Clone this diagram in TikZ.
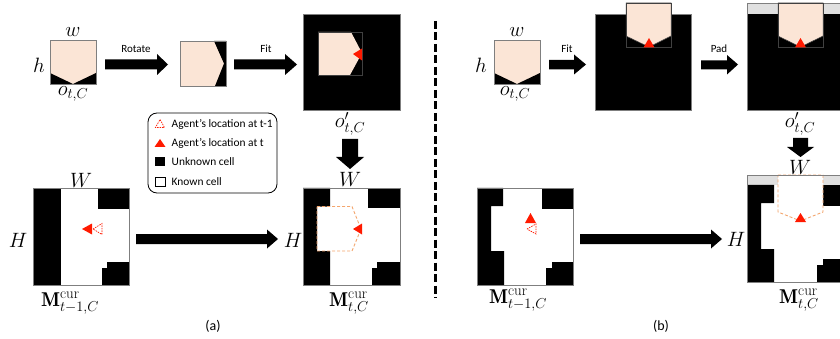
\documentclass[tikz,border=0pt]{standalone}
\usepackage{fontspec}
\setsansfont{Carlito}
\DeclareMathSizes{20}{20}{15}{11}
\definecolor{pinkf}{HTML}{FBE5D6}
\definecolor{redt}{HTML}{FF1A00}
\definecolor{orangd}{HTML}{F4A66E}
\definecolor{graybd}{HTML}{7F7F7F}
\definecolor{padgray}{HTML}{E0E0E0}
\definecolor{fovline}{HTML}{404040}
\tikzset{
  cellborder/.style={draw=graybd, line width=0.8pt},
  fovbox/.style={draw=fovline, line width=0.5pt},
  redtri/.style={fill=redt},
  dashtri/.style={draw=redt, dash pattern=on 1.5pt off 1pt, line width=0.7pt},
  fovdash/.style={draw=orangd, dash pattern=on 3pt off 2pt, line width=0.9pt},
  mlbl/.style={font=\fontsize{20}{22}\selectfont, inner sep=0pt},
  slbl/.style={font=\sffamily\fontsize{11}{13}\selectfont, inner sep=0pt},
  leglbl/.style={font=\sffamily\fontsize{11.4}{13}\selectfont, inner sep=0pt},
  caplbl/.style={font=\sffamily\fontsize{14}{16}\selectfont, inner sep=0pt},
  blk/.style={fill=black}
}
\begin{document}
\begin{tikzpicture}[x=1pt,y=-1pt]
\useasboundingbox (0,0) rectangle (840,339);
\clip (0,0) rectangle (840,339);

% ================= Panel (a) =================
% o_{t,C}
\fill[pinkf] (50,40) rectangle (96,84);
\fill (50,73) -- (73,84) -- (50,84) -- cycle;
\fill (96,73) -- (73,84) -- (96,84) -- cycle;
\draw[cellborder] (50,40) rectangle (96,84);
\node[mlbl] (wa) at (73,32) {$w$};
\node[mlbl] (ha) at (39,65) {$h$};
\node[mlbl] (oa) at (73,94) {$o_{t,C}$};

% Rotate arrow
\fill[blk] (105,59.5) -- (157,59.5) -- (157,54) -- (168,64.5) -- (157,75) -- (157,69.5) -- (105,69.5) -- cycle;
\node[slbl] (rot) at (136,49) {Rotate};

% rotated
\fill[pinkf] (180,41) rectangle (226,86);
\fill (214,41) -- (226,41) -- (226,86) -- (215,86) -- (224,63.5) -- cycle;
\draw[cellborder] (180,41) rectangle (226,86);

% Fit arrow
\fill[blk] (234,59.5) -- (285,59.5) -- (285,54) -- (297,64.5) -- (285,75) -- (285,69.5) -- (234,69.5) -- cycle;
\node[slbl] (fita) at (266,49) {Fit};

% o'_{t,C}
\fill (303,14) rectangle (400,110);
\fill[pinkf] (318,32) -- (351,32) -- (362,53) -- (350,75) -- (318,75) -- cycle;
\draw[fovbox] (318,32) rectangle (362,75);
\fill[redtri] (353,54) -- (362,48.5) -- (362,60.5) -- cycle;
\draw[cellborder] (303,14) rectangle (400,110);
\node[mlbl] (opa) at (350,124) {$o'_{t,C}$};

% down arrow
\fill[blk] (342,139) -- (358,139) -- (358,157) -- (364,157) -- (350,169) -- (336,157) -- (342,157) -- cycle;
\node[mlbl] (Wa2) at (350,179) {$W$};

% legend
\draw[line width=0.8pt, rounded corners=9pt] (148,113) rectangle (277,193);
\draw[dashtri] (160,119.5) -- (164.5,127.5) -- (155.5,127.5) -- cycle;
\node[leglbl, anchor=west] (lg1) at (171.5,124) {Agent’s location at t-1};
\fill[redtri] (160,139) -- (165.5,147) -- (154.5,147) -- cycle;
\node[leglbl, anchor=west] (lg2) at (171.5,143.5) {Agent’s location at t};
\fill (155,157) rectangle (165,166);
\node[leglbl, anchor=west] (lg3) at (171.5,162) {Unknown cell};
\draw[line width=0.7pt] (155,177) rectangle (165,186);
\node[leglbl, anchor=west] (lg4) at (171.5,181.5) {Known cell};

% M_{t-1,C} (a)
\fill[white] (33,188) rectangle (129,285);
\fill (33,188) rectangle (61,285);
\fill (98,188) rectangle (129,209);
\fill (107,262) -- (129,262) -- (129,285) -- (102,285) -- (102,268) -- (107,268) -- cycle;
\fill[redtri] (82,229) -- (92,223.5) -- (92,234.5) -- cycle;
\draw[dashtri] (93,229) -- (102,223.5) -- (102,234.5) -- cycle;
\draw[cellborder] (33,188) rectangle (129,285);
\node[mlbl] (Wa1) at (81,180) {$W$};
\node[mlbl] (Ha1) at (18,240) {$H$};
\node[mlbl] (Ma1) at (70,303) {$\mathbf{M}^{\mathrm{cur}}_{t-1,C}$};

% big arrow (a)
\fill[blk] (136,234) -- (267,234) -- (267,229.5) -- (278,239) -- (267,248.5) -- (267,244) -- (136,244) -- cycle;

% M_{t,C} (a)
\fill[white] (303,188) rectangle (400,285);
\fill (303,188) -- (330,188) -- (330,206.5) -- (317,206.5) -- (317,251) -- (330,251) -- (330,285) -- (303,285) -- cycle;
\fill (368,188) rectangle (400,208);
\fill (377,262) -- (400,262) -- (400,285) -- (372,285) -- (372,268) -- (377,268) -- cycle;
\draw[fovdash] (317,206.5) -- (352,206.5) -- (361,229) -- (352,251) -- (317,251) -- cycle;
\fill[redtri] (353,229) -- (362,223.5) -- (362,234.5) -- cycle;
\draw[cellborder] (303,188) rectangle (400,285);
\node[mlbl] (Ha2) at (293,240) {$H$};
\node[mlbl] (Ma2) at (349,303) {$\mathbf{M}^{\mathrm{cur}}_{t,C}$};

\node[caplbl] (capa) at (213,326) {(a)};

% separator
\draw[line width=3pt, dash pattern=on 8pt off 3.5pt] (435,21) -- (435,298);

% ================= Panel (b) =================
\fill[pinkf] (494,40) rectangle (540,84);
\fill (494,73) -- (517,84) -- (494,84) -- cycle;
\fill (540,73) -- (517,84) -- (540,84) -- cycle;
\draw[cellborder] (494,40) rectangle (540,84);
\node[mlbl] (wb) at (517,32) {$w$};
\node[mlbl] (hb) at (481,65) {$h$};
\node[mlbl] (ob) at (515,94) {$o_{t,C}$};

% Fit arrow (b)
\fill[blk] (549,60) -- (574,60) -- (574,54.5) -- (586,64.5) -- (574,74.5) -- (574,69.5) -- (549,69.5) -- cycle;
\node[slbl] (fitb) at (567,49) {Fit};

% fitted
\fill (595,14) rectangle (691,110);
\draw[cellborder] (595,14) rectangle (691,110);
\fill[pinkf] (626,3) -- (671,3) -- (671,36) -- (649,47) -- (626,36) -- cycle;
\draw[fovbox] (626,3) rectangle (671,47.5);
\draw[fovbox] (626,3) -- (671,3) -- (671,36) -- (649,47) -- (626,36) -- cycle;
\fill[redtri] (649,38) -- (654.5,47.5) -- (643.5,47.5) -- cycle;

% Pad arrow
\fill[blk] (701,60.5) -- (727,60.5) -- (727,55) -- (738,64.5) -- (727,74.5) -- (727,69.5) -- (701,69.5) -- cycle;
\node[slbl] (pad) at (719,49) {Pad};

% padded
\fill[padgray] (747,3) rectangle (843,14);
\fill (747,14) rectangle (843,110);
\draw[cellborder] (747,3) rectangle (843,110);
\fill[pinkf] (778,3) -- (823,3) -- (823,36) -- (800.5,47) -- (778,36) -- cycle;
\draw[fovbox] (778,3) rectangle (823,47.5);
\draw[fovbox] (778,3) -- (823,3) -- (823,36) -- (800.5,47) -- (778,36) -- cycle;
\fill[redtri] (800.5,38) -- (806,47.5) -- (795,47.5) -- cycle;
\node[mlbl] (opb) at (800,124) {$o'_{t,C}$};

% down arrow (b)
\fill[blk] (793,138) -- (808,138) -- (808,147) -- (814,147) -- (800.5,157) -- (787,147) -- (793,147) -- cycle;
\node[mlbl] (Wb2) at (800,167) {$W$};

% M_{t-1,C} (b)
\fill[white] (477,188) rectangle (573,285);
\fill (477,188) -- (503,188) -- (503,206) -- (491,206) -- (491,251) -- (504,251) -- (504,285) -- (477,285) -- cycle;
\fill (542,188) rectangle (573,209);
\fill (552,262) -- (573,262) -- (573,285) -- (546,285) -- (546,268) -- (552,268) -- cycle;
\fill[redtri] (530.5,213) -- (536,223) -- (525,223) -- cycle;
\draw[dashtri] (527,229) -- (536,224) -- (536,234) -- cycle;
\draw[cellborder] (477,188) rectangle (573,285);
\node[mlbl] (Mb1) at (518,300) {$\mathbf{M}^{\mathrm{cur}}_{t-1,C}$};

% big arrow (b)
\fill[blk] (580,234) -- (711,234) -- (711,229.5) -- (722,239) -- (711,248.5) -- (711,244) -- (580,244) -- cycle;
\node[mlbl] (Hb2) at (736,239) {$H$};

% M_{t,C} (b)
\fill[white] (747,175) rectangle (843,282);
\fill[padgray] (747,175) rectangle (843,185);
\fill (747,185) -- (774,185) -- (774,203) -- (761,203) -- (761,249) -- (774,249) -- (774,282) -- (747,282) -- cycle;
\fill (823,185) rectangle (843,206);
\fill (823,259) -- (843,259) -- (843,282) -- (817,282) -- (817,265) -- (823,265) -- cycle;
\fill[white] (778,175) -- (823,175) -- (823,212) -- (800.5,221) -- (778,212) -- cycle;
\draw[fovdash] (778,175) -- (823,175) -- (823,212) -- (800.5,221) -- (778,212) -- cycle;
\fill[redtri] (800.5,213) -- (806,222) -- (795,222) -- cycle;
\draw[cellborder] (747,175) rectangle (843,282);
\node[mlbl] (Mb2) at (799,300) {$\mathbf{M}^{\mathrm{cur}}_{t,C}$};

\node[caplbl] (capb) at (661,326) {(b)};
\end{tikzpicture}
\end{document}
